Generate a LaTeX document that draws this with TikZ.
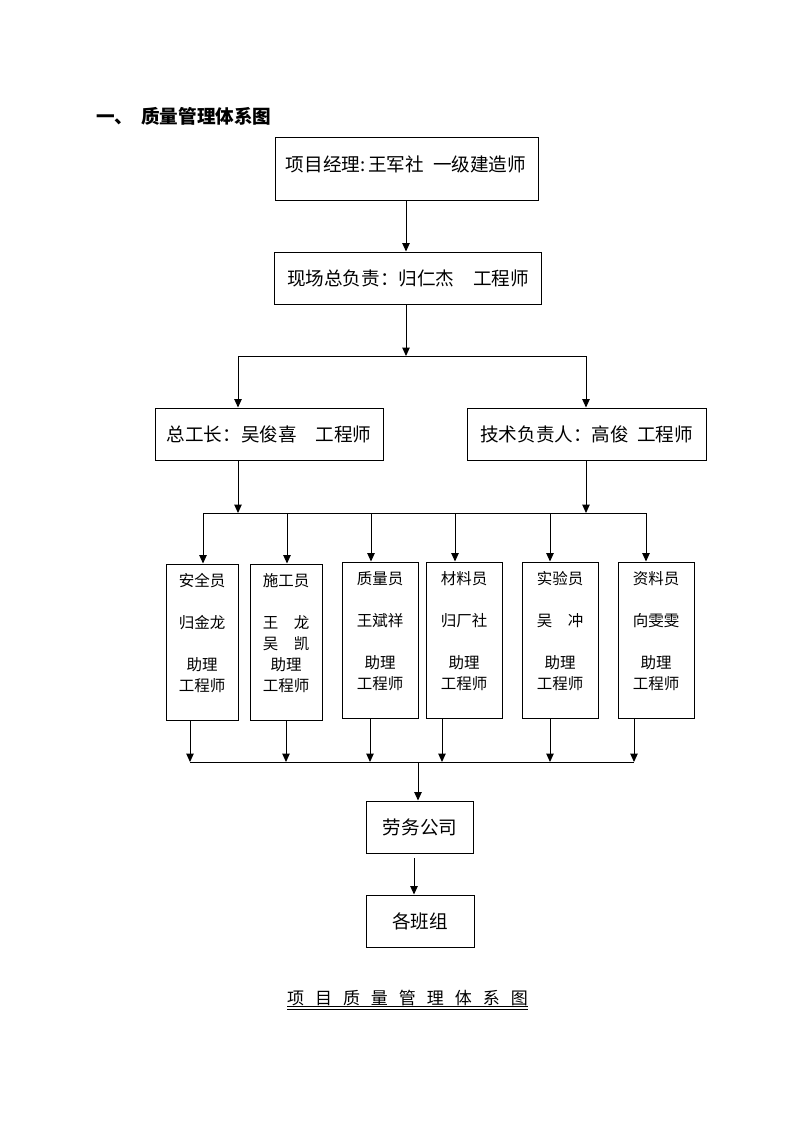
\documentclass[tikz,border=0pt]{standalone}
\usepackage{fontspec}
\setmainfont{Noto Sans CJK SC}
\usetikzlibrary{arrows.meta}
\tikzset{
  box/.style={draw, line width=1pt, inner sep=0pt, font=\fontsize{18.6}{22}\selectfont},
  btext/.style={inner sep=0pt, font=\fontsize{18.6}{22}\selectfont},
  arr/.style={line width=1pt, -{Triangle[length=8.5pt,width=7.5pt]}},
  ln/.style={line width=1pt},
  sbox/.style={draw, line width=1pt, inner sep=0pt, minimum height=156pt},
  stext/.style={anchor=north, inner sep=0pt, align=center, font=\fontsize{15.5}{21}\selectfont},
}
\begin{document}
\begin{tikzpicture}[x=1pt,y=-1pt]
\useasboundingbox[fill=white] (0,0) rectangle (793,1122);

% title
\node[anchor=west, inner sep=0pt, font=\fontsize{18.6}{22}\selectfont\bfseries] (title) at (96,116) {一、\hspace{8pt}质量管理体系图};

% top boxes
\node[box, minimum width=263pt, minimum height=63pt] (b1) at (406.5,168.5) {};
\node[btext] (b1t) at (406,164) {项目经理:\hspace{3pt}王军社\hspace{9pt}一级建造师};
\node[box, minimum width=267pt, minimum height=52pt] (b2) at (408,278) {现场总负责：归仁杰　工程师};
\node[box, minimum width=228pt, minimum height=52pt] (b3) at (269,434) {总工长：吴俊喜　工程师};
\node[box, minimum width=239pt, minimum height=52pt] (b4) at (586.5,434) {技术负责人：高俊\hspace{8pt}工程师};

% small boxes
\node[sbox, minimum width=72pt] (s1) at (202,642) {};
\node[sbox, minimum width=72pt] (s2) at (286,642) {};
\node[sbox, minimum width=76pt] (s3) at (380,640) {};
\node[sbox, minimum width=76pt] (s4) at (464,640) {};
\node[sbox, minimum width=76pt] (s5) at (560,640) {};
\node[sbox, minimum width=76pt] (s6) at (656,640) {};

\node[stext] (s1t) at (202,573) {安全员\\[21pt]归金龙\\[21pt]助理\\工程师};
\node[stext] (s2t) at (286,573) {施工员\\[21pt]王　龙\\吴　凯\\助理\\工程师};
\node[stext] (s3t) at (380,571) {质量员\\[21pt]王斌祥\\[21pt]助理\\工程师};
\node[stext] (s4t) at (464,571) {材料员\\[21pt]归厂社\\[21pt]助理\\工程师};
\node[stext] (s5t) at (560,571) {实验员\\[21pt]吴　冲\\[21pt]助理\\工程师};
\node[stext] (s6t) at (656,571) {资料员\\[21pt]向雯雯\\[21pt]助理\\工程师};

% bottom boxes
\node[box, minimum width=107pt, minimum height=52pt] (l1) at (420,827) {劳务公司};
\node[box, minimum width=108pt, minimum height=52pt] (l2) at (420,921) {各班组};

% caption
\node[inner sep=0pt, font=\fontsize{17}{20}\selectfont] (cap) at (407.5,998) {项\hspace{11pt}目\hspace{11pt}质\hspace{11pt}量\hspace{11pt}管\hspace{11pt}理\hspace{11pt}体\hspace{11pt}系\hspace{11pt}图};
\coordinate (u1a) at (287,1006);
\coordinate (u1b) at (528,1006);
\coordinate (u2a) at (287,1009);
\coordinate (u2b) at (528,1009);
\draw[line width=0.8pt] (u1a) -- (u1b);
\draw[line width=0.8pt] (u2a) -- (u2b);

% connectors
\coordinate (j1) at (406,356);
\coordinate (ja) at (238,356);
\coordinate (jb) at (586,356);
\draw[arr] (b1.south -| j1) -- (b2.north -| j1);
\draw[arr] (b2.south -| j1) -- (j1);
\draw[ln] (ja) -- (jb);
\draw[arr] (ja) -- (ja |- b3.north);
\draw[arr] (jb) -- (jb |- b4.north);

\coordinate (ka) at (238,513);
\coordinate (kb) at (586,513);
\draw[arr] (ka |- b3.south) -- (ka);
\draw[arr] (kb |- b4.south) -- (kb);

\coordinate (t1) at (203,513);
\coordinate (t2) at (287,513);
\coordinate (t3) at (371,513);
\coordinate (t4) at (455,513);
\coordinate (t5) at (550,513);
\coordinate (t6) at (646,513);
\draw[ln] (t1) -- (t6);
\draw[arr] (t1) -- (t1 |- s1.north);
\draw[arr] (t2) -- (t2 |- s2.north);
\draw[arr] (t3) -- (t3 |- s3.north);
\draw[arr] (t4) -- (t4 |- s4.north);
\draw[arr] (t5) -- (t5 |- s5.north);
\draw[arr] (t6) -- (t6 |- s6.north);

\coordinate (d1) at (190,762);
\coordinate (d2) at (286,762);
\coordinate (d3) at (370,762);
\coordinate (d4) at (442,762);
\coordinate (d5) at (550,762);
\coordinate (d6) at (634,762);
\coordinate (dm) at (418,762);
\draw[ln] (d1) -- (d6);
\draw[arr] (d1 |- s1.south) -- (d1);
\draw[arr] (d2 |- s2.south) -- (d2);
\draw[arr] (d3 |- s3.south) -- (d3);
\draw[arr] (d4 |- s4.south) -- (d4);
\draw[arr] (d5 |- s5.south) -- (d5);
\draw[arr] (d6 |- s6.south) -- (d6);
\draw[arr] (dm) -- (dm |- l1.north);

\coordinate (e1) at (414,858);
\draw[arr] (e1) -- (e1 |- l2.north);
\end{tikzpicture}
\end{document}
